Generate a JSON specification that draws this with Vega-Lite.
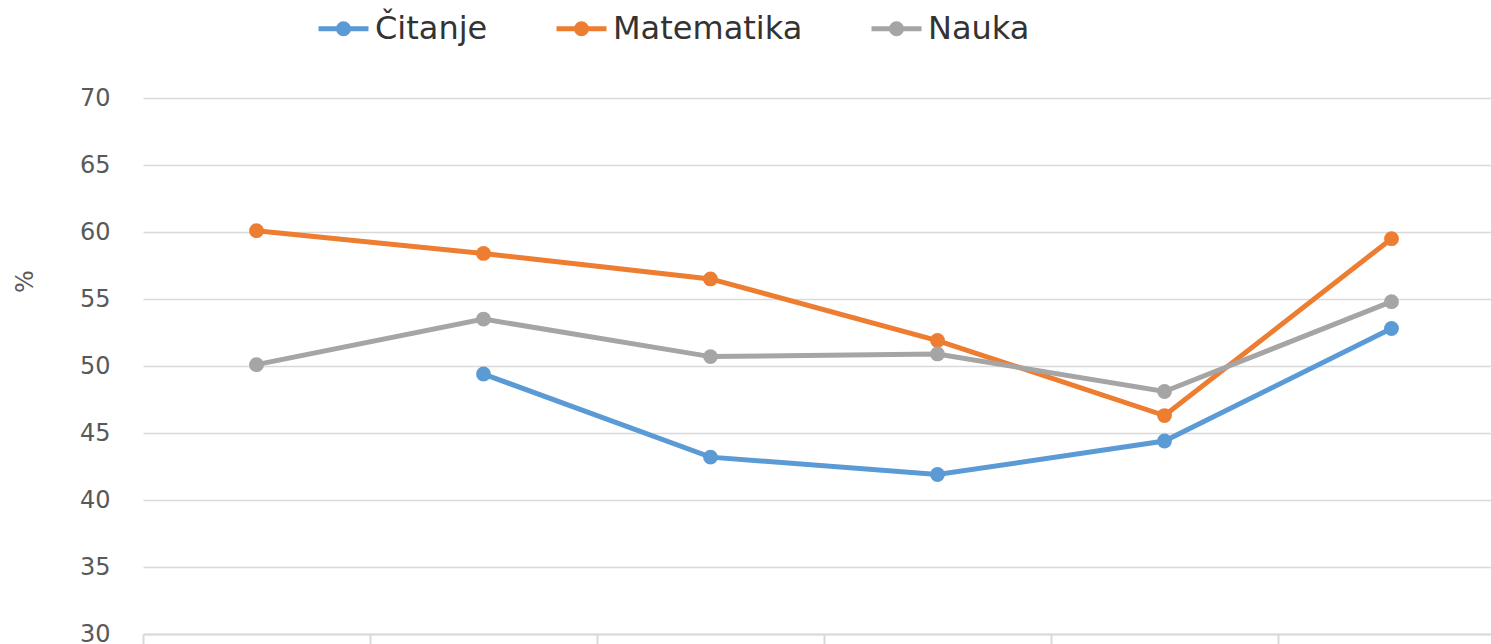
{
  "$schema": "https://vega.github.io/schema/vega-lite/v6.json",
  "width": 1362,
  "height": 536,
  "autosize": {"type": "none"},
  "padding": {"left": 143, "top": 98, "right": 0, "bottom": 10},
  "background": "white",
  "config": {"view": {"stroke": null}, "font": "DejaVu Sans"},
  "data": {
    "values": [
      {"ciklus": "2006", "oblast": "Matematika", "procenat": 60.1},
      {"ciklus": "2009", "oblast": "Matematika", "procenat": 58.4},
      {"ciklus": "2012", "oblast": "Matematika", "procenat": 56.5},
      {"ciklus": "2015", "oblast": "Matematika", "procenat": 51.9},
      {"ciklus": "2018", "oblast": "Matematika", "procenat": 46.3},
      {"ciklus": "2022", "oblast": "Matematika", "procenat": 59.5},
      {"ciklus": "2006", "oblast": "Nauka", "procenat": 50.1},
      {"ciklus": "2009", "oblast": "Nauka", "procenat": 53.5},
      {"ciklus": "2012", "oblast": "Nauka", "procenat": 50.7},
      {"ciklus": "2015", "oblast": "Nauka", "procenat": 50.9},
      {"ciklus": "2018", "oblast": "Nauka", "procenat": 48.1},
      {"ciklus": "2022", "oblast": "Nauka", "procenat": 54.8},
      {"ciklus": "2009", "oblast": "Čitanje", "procenat": 49.4},
      {"ciklus": "2012", "oblast": "Čitanje", "procenat": 43.2},
      {"ciklus": "2015", "oblast": "Čitanje", "procenat": 41.9},
      {"ciklus": "2018", "oblast": "Čitanje", "procenat": 44.4},
      {"ciklus": "2022", "oblast": "Čitanje", "procenat": 52.8}
    ]
  },
  "mark": {"type": "line", "strokeWidth": 5, "point": {"size": 220, "filled": true, "opacity": 1}},
  "encoding": {
    "x": {
      "field": "ciklus",
      "type": "ordinal",
      "sort": ["2006", "2009", "2012", "2015", "2018", "2022"],
      "bandPosition": 0.5,
      "scale": {"type": "band", "paddingInner": 0, "paddingOuter": 0},
      "axis": {
        "title": null,
        "labels": false,
        "grid": false,
        "domainColor": "#d9d9d9",
        "domainWidth": 2,
        "tickColor": "#d9d9d9",
        "tickWidth": 2,
        "tickSize": 12,
        "tickBand": "extent"
      }
    },
    "y": {
      "field": "procenat",
      "type": "quantitative",
      "scale": {"domain": [30, 70], "nice": false, "zero": false},
      "axis": {
        "values": [30, 35, 40, 45, 50, 55, 60, 65, 70],
        "title": "%",
        "titleColor": "#595959",
        "titleFontSize": 24,
        "titleFontWeight": "normal",
        "titleX": -118,
        "titleY": 183,
        "titleAngle": -90,
        "titleBaseline": "middle",
        "domain": false,
        "ticks": false,
        "grid": true,
        "gridColor": "#d9d9d9",
        "gridWidth": 1.5,
        "labelFontSize": 24,
        "labelColor": "#595959",
        "labelPadding": 33
      }
    },
    "color": {
      "field": "oblast",
      "type": "nominal",
      "scale": {"domain": ["Čitanje", "Matematika", "Nauka"], "range": ["#5B9BD5", "#ED7D31", "#A5A5A5"]},
      "legend": {
        "title": null,
        "orient": "none",
        "direction": "horizontal",
        "legendX": 173,
        "legendY": -97,
        "labelFontSize": 32,
        "labelColor": "#333333",
        "labelLimit": 0,
        "columnPadding": 58,
        "symbolType": "M-1,0H1M-0.2,0A0.2,0.2,0,1,1,0.2,0A0.2,0.2,0,1,1,-0.2,0",
        "symbolStrokeWidth": 5,
        "symbolSize": 2500,
        "labelOffset": 4,
        "encode": {
          "symbols": {
            "update": {
              "fill": {"scale": "color", "field": "value"},
              "stroke": {"scale": "color", "field": "value"},
              "opacity": {"value": 1}
            }
          }
        }
      }
    }
  }
}
